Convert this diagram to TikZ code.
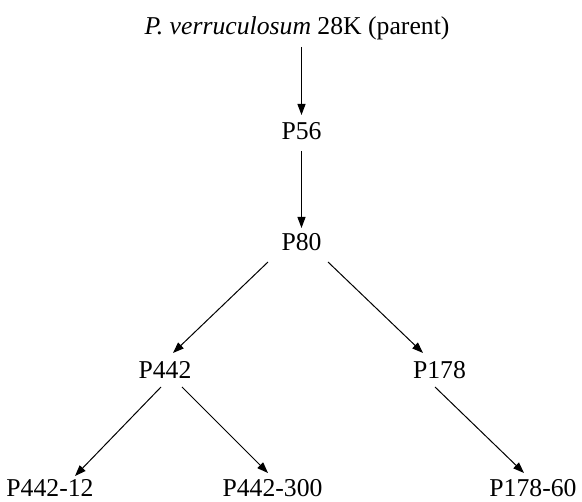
\documentclass[tikz,border=0pt]{standalone}
\usepackage{fontspec}
\setmainfont{Liberation Serif}
\usetikzlibrary{calc,arrows.meta}
\begin{document}
\begin{tikzpicture}[x=1pt,y=-1pt,
  lbl/.style={anchor=base,inner sep=0pt,font=\fontsize{25.7}{30}\selectfont},
  arr/.style={line width=1pt,-{Triangle[length=11pt,width=8pt]}}]
\useasboundingbox (0,0) rectangle (582,502);
\node[lbl] (title) at (297,35) {\textit{P. verruculosum} 28K (parent)};
\node[lbl] (p56) at (301.5,140) {P56};
\node[lbl] (p80) at (301.5,251) {P80};
\node[lbl] (p442) at (165,379) {P442};
\node[lbl] (p178) at (439.5,378.5) {P178};
\node[lbl] (p44212) at (50,497) {P442-12};
\node[lbl] (p442300) at (272.5,497) {P442-300};
\node[lbl] (p17860) at (533,497) {P178-60};
\draw[arr] ($(title.base -| p56.base)+(0,12)$) -- ($(p56.base)+(0,-25)$);
\draw[arr] ($(p56.base)+(0,11)$) -- ($(p80.base)+(0,-23)$);
\draw[arr] ($(p80.base)+(-33.5,11)$) -- ($(p442.base)+(8,-26)$);
\draw[arr] ($(p80.base)+(26.5,11)$) -- ($(p178.base)+(-16.5,-25.5)$);
\draw[arr] ($(p442.base)+(-4,8)$) -- ($(p44212.base)+(25,-21)$);
\draw[arr] ($(p442.base)+(17,8)$) -- ($(p442300.base)+(-4.5,-24)$);
\draw[arr] ($(p178.base)+(-4.5,8.5)$) -- ($(p17860.base)+(-9,-24)$);
\end{tikzpicture}
\end{document}
